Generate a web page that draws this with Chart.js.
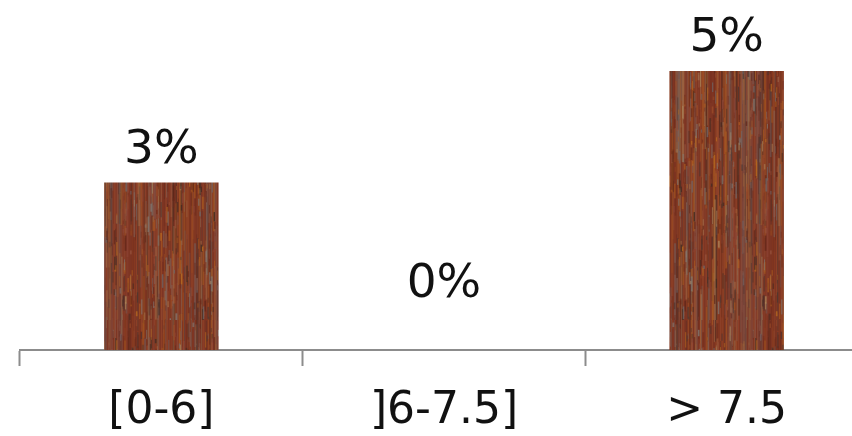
<!DOCTYPE html>
<html>
<head>
<meta charset="utf-8">
<script src="https://cdn.jsdelivr.net/npm/chart.js@4.4.1/dist/chart.umd.min.js"></script>
<style>
  html, body { margin: 0; padding: 0; background: #ffffff; overflow: hidden; }
  #wrap { width: 870px; height: 436px; position: relative; }
</style>
</head>
<body>
<div id="wrap"><canvas id="chart" width="870" height="436"></canvas></div>
<script>
// Share of samples per pH range
const categories = ['[0-6]', ']6-7.5]', '> 7.5'];
const shares = [3, 0, 5];           // percent
const valueLabels = ['3%', '0%', '5%'];

// Small deterministic generator for the wood-grain fill
function seeded(seed) {
  let s = seed >>> 0;
  return function () {
    s = (s * 1664525 + 1013904223) >>> 0;
    return s / 4294967296;
  };
}

// Rusty, weathered wood texture used as the bar fill
function woodPattern(ctx) {
  const W = 160, H = 320;
  const raw = document.createElement('canvas');
  raw.width = W; raw.height = H;
  const g = raw.getContext('2d');
  const rnd = seeded(20240611);
  const base = ['#7e3522', '#86391f', '#8c3f27', '#7a3324', '#833b28', '#8f4229'];
  const streak = ['#6a2a1a', '#5e2418', '#9a4b28', '#a9581f', '#b8691f', '#6e6668', '#807a75',
                  '#4a3530', '#94503a', '#a98258', '#8d4535', '#3e2a22', '#732d1d'];
  g.fillStyle = '#853a24';
  g.fillRect(0, 0, W, H);
  // base columns, varying slowly across the width
  for (let x = 0; x < W; x++) {
    g.globalAlpha = 0.7;
    g.fillStyle = base[Math.floor(rnd() * base.length)];
    g.fillRect(x, 0, 1, H);
  }
  // long, faint fibres
  for (let i = 0; i < 500; i++) {
    const x = rnd() * W;
    const y = rnd() * H;
    const len = 30 + rnd() * 120;
    g.globalAlpha = 0.2 + rnd() * 0.35;
    g.fillStyle = streak[Math.floor(rnd() * streak.length)];
    g.fillRect(x, y, 0.8 + rnd() * 1.5, len);
    if (y + len > H) g.fillRect(x, y - H, 1, len);
  }
  // short flecks of lighter and darker grain
  for (let i = 0; i < 900; i++) {
    const x = rnd() * W;
    const y = rnd() * H;
    const len = 3 + rnd() * 14;
    g.globalAlpha = 0.35 + rnd() * 0.45;
    g.fillStyle = streak[Math.floor(rnd() * streak.length)];
    g.fillRect(x, y, 0.7 + rnd() * 1.2, len);
  }
  // a few grey weathered bands
  for (let i = 0; i < 5; i++) {
    const x = rnd() * W;
    g.globalAlpha = 0.18;
    g.fillStyle = '#6f6c70';
    g.fillRect(x, 0, 2 + rnd() * 5, H);
  }
  g.globalAlpha = 1;
  const soft = document.createElement('canvas');
  soft.width = W; soft.height = H;
  const s = soft.getContext('2d');
  s.filter = 'blur(0.6px)';
  s.drawImage(raw, 0, 0);
  return ctx.createPattern(soft, 'repeat');
}

const canvas = document.getElementById('chart');
const ctx = canvas.getContext('2d');
const wood = woodPattern(ctx);

// Percent labels above each bar
const valueLabelPlugin = {
  id: 'valueLabels',
  afterDatasetsDraw(chart) {
    const c = chart.ctx;
    const meta = chart.getDatasetMeta(0);
    c.save();
    c.font = '47px "DejaVu Sans"';
    c.fillStyle = '#111111';
    c.textAlign = 'center';
    c.textBaseline = 'alphabetic';
    meta.data.forEach((bar, i) => {
      const gap = shares[i] === 0 ? 53 : 20;
      c.fillText(valueLabels[i], bar.x, bar.y - gap);
    });
    c.restore();
  }
};

new Chart(ctx, {
  type: 'bar',
  data: {
    labels: categories,
    datasets: [{
      data: shares,
      backgroundColor: wood,
      borderWidth: 0,
      barPercentage: 0.405,
      categoryPercentage: 1.0
    }]
  },
  options: {
    responsive: false,
    animation: false,
    layout: { padding: { left: 20, right: 2, top: 0, bottom: 0 } },
    plugins: { legend: { display: false }, tooltip: { enabled: false } },
    scales: {
      y: {
        display: false,
        min: 0,
        max: 6.27
      },
      x: {
        offset: true,
        afterFit(scale) { scale.height = 86; },
        border: { display: true, color: '#8c8c8c', width: 2 },
        grid: {
          offset: true,
          drawOnChartArea: false,
          drawTicks: true,
          tickLength: 16,
          tickWidth: 2,
          tickColor: '#8c8c8c'
        },
        ticks: {
          padding: 19,
          color: '#111111',
          font: { family: 'DejaVu Sans', size: 44 }
        }
      }
    }
  },
  plugins: [valueLabelPlugin]
});
</script>
</body>
</html>
